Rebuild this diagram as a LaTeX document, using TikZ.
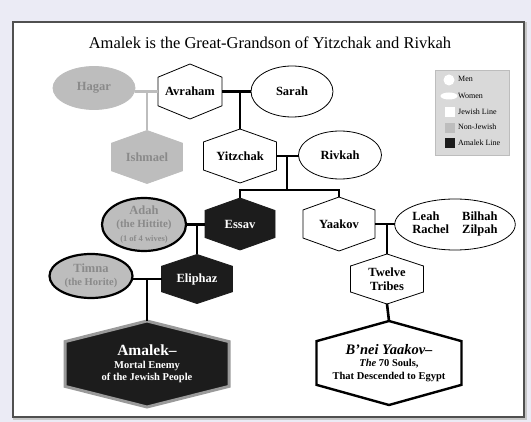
\documentclass[tikz,border=0pt]{standalone}
\usepackage{fontspec}
\setmainfont{Liberation Serif}
\usetikzlibrary{shapes.geometric}

\definecolor{bgpage}{HTML}{EBEBF5}
\definecolor{framecol}{HTML}{505050}
\definecolor{nonjew}{HTML}{BDBDBD}
\definecolor{nonjewtext}{HTML}{8A8A8A}
\definecolor{amalekfill}{HTML}{1C1C1C}
\definecolor{amalekrim}{HTML}{9A9A9A}
\definecolor{legendfill}{HTML}{D9D9D9}

\makeatletter
\pgfdeclareshape{hexbox}{
  \inheritsavedanchors[from=rectangle]
  \inheritanchorborder[from=rectangle]
  \inheritanchor[from=rectangle]{center}
  \inheritanchor[from=rectangle]{north}
  \inheritanchor[from=rectangle]{south}
  \inheritanchor[from=rectangle]{east}
  \inheritanchor[from=rectangle]{west}
  \backgroundpath{
    \southwest \pgf@xa=\pgf@x \pgf@ya=\pgf@y
    \northeast \pgf@xb=\pgf@x \pgf@yb=\pgf@y
    \pgf@xc=.5\pgf@xa \advance\pgf@xc by .5\pgf@xb
    \pgf@yc=\pgf@yb \advance\pgf@yc by -\pgf@ya
    \pgf@yc=.24\pgf@yc
    \pgfpathmoveto{\pgfqpoint{\pgf@xc}{\pgf@yb}}
    \pgfpathlineto{\pgfqpoint{\pgf@xb}{\dimexpr\pgf@yb-\pgf@yc\relax}}
    \pgfpathlineto{\pgfqpoint{\pgf@xb}{\dimexpr\pgf@ya+\pgf@yc\relax}}
    \pgfpathlineto{\pgfqpoint{\pgf@xc}{\pgf@ya}}
    \pgfpathlineto{\pgfqpoint{\pgf@xa}{\dimexpr\pgf@ya+\pgf@yc\relax}}
    \pgfpathlineto{\pgfqpoint{\pgf@xa}{\dimexpr\pgf@yb-\pgf@yc\relax}}
    \pgfpathclose
  }
}
\makeatother

\begin{document}
\begin{tikzpicture}[x=1pt, y=-1pt, hex/.style={shape=hexbox, draw, fill=white, line width=.8pt, inner sep=0pt, outer sep=0pt, align=center, font=\bfseries\fontsize{12.5}{13.5}\selectfont}]
            \tikzset{oval/.style = {ellipse, draw, fill=white, line width=.8pt, inner sep=0pt, outer sep=0pt, align=center, font=\bfseries\fontsize{12.5}{13.5}\selectfont}}
            \tikzset{nonjewish/.style = {fill=nonjew, draw=nonjew, text=nonjewtext}}
            \tikzset{amalekline/.style = {fill=amalekfill, draw=amalekfill, text=white}}
            \tikzset{edge/.style = {line width=2.6pt, black}}
            \tikzset{nonedge/.style = {line width=2.4pt, nonjew}}
            \tikzset{keytext/.style = {anchor=west, inner sep=0pt, font=\fontsize{8}{9}\selectfont}}

            \useasboundingbox (0,0) rectangle (531,422);
            \fill[bgpage] (0,0) rectangle (531,422);
            \draw[line width=2.4pt, gray!45] (14.5,23.5) rectangle (525.5,418.5);
            \draw[line width=1.1pt, framecol, fill=white] (13,22) rectangle (524,417);

            \node[font=\fontsize{16.5}{18}\selectfont] (title) at (270,43) {Amalek is the Great-Grandson of Yitzchak and Rivkah};

            \node[oval, nonjewish, minimum width=82pt, minimum height=43pt] (hagar) at (94,88) {Hagar};
            \node[hex, minimum width=64pt, minimum height=55pt] (avraham) at (190,91.5) {Avraham};
            \node[oval, minimum width=82pt, minimum height=51pt] (sarah) at (292,91.5) {Sarah};

            \node[hex, nonjewish, minimum width=71pt, minimum height=53pt] (ishmael) at (147,157) {Ishmael};
            \node[hex, minimum width=73pt, minimum height=54pt] (yitzchak) at (240,156) {Yitzchak};
            \node[oval, minimum width=83pt, minimum height=48pt] (rivkah) at (340,155) {Rivkah};

            \node[oval, nonjewish, draw=black, line width=2.2pt, minimum width=84pt, minimum height=51pt] (adah) at (144,224.5) {Adah\\{\fontsize{11}{12}\selectfont(the Hittite)}\\{\fontsize{8.5}{10}\selectfont(1 of 4 wives)}};
            \node[hex, amalekline, minimum width=70pt, minimum height=52pt] (essav) at (240,224) {Essav};
            \node[hex, minimum width=72pt, minimum height=54pt] (yaakov) at (339,224) {Yaakov};
            \node[oval, minimum width=117pt, minimum height=51pt] (wives) at (455,224.5) {\begin{tabular}{@{}l@{\hspace{13pt}}c@{}}Leah & Bilhah\\Rachel & Zilpah\end{tabular}};

            \node[oval, nonjewish, draw=black, line width=2.2pt, minimum width=83pt, minimum height=44pt] (timna) at (91,276) {Timna\\{\fontsize{10.5}{12}\selectfont(the Horite)}};
            \node[hex, amalekline, minimum width=71pt, minimum height=49pt] (eliphaz) at (197,279) {Eliphaz};
            \node[hex, minimum width=73pt, minimum height=50pt] (tribes) at (387,279) {Twelve\\Tribes};

            \node[hex, amalekline, draw=amalekrim, line width=3pt, minimum width=164pt, minimum height=86pt, font=\bfseries\fontsize{10.5}{12.5}\selectfont] (amalek) at (147,364) {{\fontsize{15.5}{17}\selectfont Amalek--}\\Mortal Enemy\\of the Jewish People};
            \node[hex, line width=2.4pt, minimum width=145pt, minimum height=84pt, font=\bfseries\fontsize{10.5}{12.5}\selectfont] (bnei) at (389,363) {{\fontsize{14.5}{17}\selectfont\itshape B'nei Yaakov--}\\\textit{The} 70 Souls,\\That Descended to Egypt};

            \draw[nonedge] (avraham.west) -- (avraham.west -| hagar.east);
            \draw[nonedge] (ishmael.north |- avraham.west) -- (ishmael.north);
            \draw[edge, line width=3pt] (avraham.east) -- (sarah.west);
            \draw[edge] (yitzchak.north |- avraham.east) -- (yitzchak.north);
            \coordinate (kids) at (287,190);
            \draw[edge] (yitzchak.east) -- (yitzchak.east -| rivkah.west);
            \draw[edge] (kids |- yitzchak.east) -- (kids);
            \draw[edge] (essav.north) -- (essav.north |- kids) -- (yaakov.north |- kids) -- (yaakov.north);
            \draw[edge] (adah.east) -- (adah.east -| essav.west);
            \draw[edge] (eliphaz.north |- adah.east) -- (eliphaz.north);
            \draw[edge] (yaakov.east) -- (yaakov.east -| wives.west);
            \draw[edge] (tribes.north |- yaakov.east) -- (tribes.north);
            \draw[edge] (tribes.south) -- (bnei.north);
            \draw[edge] (eliphaz.west) -- (eliphaz.west -| timna.east);
            \draw[edge] (amalek.north |- eliphaz.west) -- (amalek.north);

            \node[draw=nonjew, fill=legendfill, minimum width=74pt, minimum height=85pt, inner sep=0pt] (legend) at (472,112.5) {};
            \node[circle, fill=white, minimum size=11pt, inner sep=0pt] (keymen) at (449,80) {};
            \node[ellipse, fill=white, minimum width=17pt, minimum height=7pt, inner sep=0pt] (keywomen) at (449,96) {};
            \node[fill=white, minimum size=10pt, inner sep=0pt] (keyjewish) at (450,112) {};
            \node[fill=nonjew, minimum size=10pt, inner sep=0pt] (keynonjewish) at (450,128) {};
            \node[fill=amalekfill, minimum size=10pt, inner sep=0pt] (keyamalek) at (450,143) {};
            \node[keytext] (keymentext) at (458,79) {Men};
            \node[keytext] (keywomentext) at (458,96) {Women};
            \node[keytext] (keyjewishtext) at (458,112) {Jewish Line};
            \node[keytext] (keynonjewishtext) at (458,127) {Non-Jewish};
            \node[keytext] (keyamalektext) at (458,143) {Amalek Line};

            \end{tikzpicture}
\end{document}
